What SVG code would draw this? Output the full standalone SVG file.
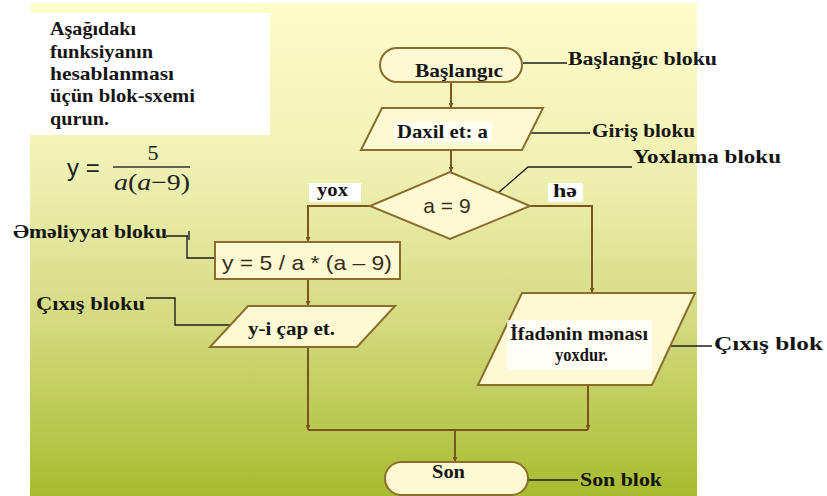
<svg xmlns="http://www.w3.org/2000/svg" width="827" height="496" viewBox="0 0 827 496">
  <defs>
    <linearGradient id="bg" x1="0" y1="0" x2="0" y2="1">
      <stop offset="0" stop-color="#fdfdcc"/>
      <stop offset="0.35" stop-color="#eef0b2"/>
      <stop offset="0.65" stop-color="#d3da80"/>
      <stop offset="1" stop-color="#a7bc2f"/>
    </linearGradient>
    <marker id="arr" viewBox="0 0 6 6" refX="6" refY="3" markerWidth="5" markerHeight="5" orient="auto" markerUnits="userSpaceOnUse">
      <path d="M0,0 L6,3 L0,6 z" fill="#7a5520"/>
    </marker>
    <style>
      .node { fill: #fdfad3; stroke: #8c6d2c; stroke-width: 2; }
      .flow { fill: none; stroke: #7a5520; stroke-width: 2; }
      .lead { fill: none; stroke: #1e1e1e; stroke-width: 1.4; }
      .lbl { font-weight: bold; font-size: 19px; fill: #151515; }
      .sans { font-family: 'Liberation Sans', Arial, sans-serif; font-size: 21px; fill: #3a2c1a; }
      .hl { fill: #ffffff; }
    </style>
  </defs>

  <!-- backdrop panel -->
  <rect x="0" y="0" width="827" height="496" fill="#ffffff"/>
  <rect x="30" y="3" width="667" height="493" fill="url(#bg)"/>

  <g font-family="Liberation Serif, serif">
  <!-- task statement -->
  <g id="task">
    <rect x="30" y="13" width="240" height="122" fill="#ffffff"/>
    <text class="lbl" x="50" y="35" textLength="86" lengthAdjust="spacingAndGlyphs">Aşağıdakı</text>
    <text class="lbl" x="50" y="58" textLength="103" lengthAdjust="spacingAndGlyphs">funksiyanın</text>
    <text class="lbl" x="50" y="80" textLength="124" lengthAdjust="spacingAndGlyphs">hesablanması</text>
    <text class="lbl" x="50" y="102" textLength="145" lengthAdjust="spacingAndGlyphs">üçün blok-sxemi</text>
    <text class="lbl" x="50" y="125" textLength="59" lengthAdjust="spacingAndGlyphs">qurun.</text>
  </g>

  <!-- formula y = 5 / (a(a-9)) -->
  <g id="formula">
    <text x="67" y="176" font-family="Liberation Sans, Arial, sans-serif" font-size="24" fill="#222">y =</text>
    <text x="153" y="160" text-anchor="middle" font-size="22" fill="#222">5</text>
    <line x1="113" y1="167" x2="190" y2="167" stroke="#333" stroke-width="1.3"/>
    <text x="114" y="190" font-size="23" fill="#222" textLength="76" lengthAdjust="spacingAndGlyphs"><tspan font-style="italic">a</tspan>(<tspan font-style="italic">a</tspan>−9)</text>
  </g>

  <!-- connectors -->
  <g id="connectors">
    <path class="flow" d="M451,82 V108" marker-end="url(#arr)"/>
    <path class="flow" d="M451,150 V172" marker-end="url(#arr)"/>
    <path class="flow" d="M370,206 H308 V242" marker-end="url(#arr)"/>
    <path class="flow" d="M530,206 H592 V293" marker-end="url(#arr)"/>
    <path class="flow" d="M308,279 V306" marker-end="url(#arr)"/>
    <path class="flow" d="M308,347 V430" marker-end="url(#arr)"/>
    <path class="flow" d="M588,385 V430" marker-end="url(#arr)"/>
    <path class="flow" d="M308,430 H588"/>
    <path class="flow" d="M455,430 V462" marker-end="url(#arr)"/>

    <!-- leader lines for the block names -->
    <path class="lead" d="M523,63 H567"/>
    <path class="lead" d="M531,133 H590"/>
    <path class="lead" d="M498,193 L528,167 H632"/>
    <path class="lead" d="M671,346 H712"/>
    <path class="lead" d="M528,480 H578"/>
    <path class="lead" d="M166,236 H188 M189,231 V240 M187,236 V258 H215"/>
    <path class="lead" d="M146,298 H175 V325 H230"/>
  </g>

  <!-- start terminal -->
  <g id="start">
    <rect class="node" x="380" y="48" width="142" height="34" rx="17"/>
    <text class="lbl" x="415" y="77" textLength="88" lengthAdjust="spacingAndGlyphs">Başlangıc</text>
  </g>

  <!-- input -->
  <g id="input">
    <polygon class="node" points="382,108 543,108 522,150 361,150"/>
    <rect class="hl" x="394" y="122" width="98" height="20" opacity="0.7"/>
    <text class="lbl" x="397" y="138" textLength="91" lengthAdjust="spacingAndGlyphs">Daxil et: a</text>
  </g>

  <!-- decision -->
  <g id="decision">
    <polygon class="node" points="450,172 530,206 450,239 370,206"/>
    <text class="sans" x="447" y="213" text-anchor="middle">a = 9</text>
  </g>

  <!-- branch labels -->
  <g id="branch-no">
    <rect class="hl" x="309" y="183" width="52" height="19"/>
    <text class="lbl" x="317" y="196" font-size="16" textLength="31" lengthAdjust="spacingAndGlyphs">yox</text>
  </g>
  <g id="branch-yes">
    <rect class="hl" x="548" y="183" width="35" height="19"/>
    <text class="lbl" x="553" y="197" font-size="16" textLength="24" lengthAdjust="spacingAndGlyphs">hə</text>
  </g>

  <!-- process -->
  <g id="process">
    <rect class="node" x="215" y="242" width="185" height="37"/>
    <text class="sans" x="222" y="270" font-size="22" textLength="170" lengthAdjust="spacingAndGlyphs">y = 5 / a * (a – 9)</text>
  </g>

  <!-- output of y -->
  <g id="output-y">
    <polygon class="node" points="248,306 395,306 357,347 210,347"/>
    <text class="lbl" x="248" y="335" textLength="87" lengthAdjust="spacingAndGlyphs">y-i çap et.</text>
  </g>

  <!-- output of message -->
  <g id="output-msg">
    <polygon class="node" points="522,293 695,293 652,385 478,385"/>
    <rect class="hl" x="507" y="320" width="145" height="50" opacity="0.75"/>
    <text class="lbl" x="510" y="340" textLength="138" lengthAdjust="spacingAndGlyphs">İfadənin mənası</text>
    <text class="lbl" x="555" y="361" textLength="53" lengthAdjust="spacingAndGlyphs">yoxdur.</text>
  </g>

  <!-- end terminal -->
  <g id="end">
    <rect class="node" x="385" y="462" width="143" height="33" rx="16.5"/>
    <text class="lbl" x="432" y="478" textLength="33" lengthAdjust="spacingAndGlyphs">Son</text>
  </g>

  <!-- block names -->
  <g id="name-start"><text class="lbl" x="568" y="65" textLength="149" lengthAdjust="spacingAndGlyphs">Başlanğıc bloku</text></g>
  <g id="name-input"><text class="lbl" x="592" y="137" textLength="103" lengthAdjust="spacingAndGlyphs">Giriş bloku</text></g>
  <g id="name-check"><text class="lbl" x="633" y="163" textLength="148" lengthAdjust="spacingAndGlyphs">Yoxlama bloku</text></g>
  <g id="name-process"><text class="lbl" x="13" y="238" textLength="154" lengthAdjust="spacingAndGlyphs">Əməliyyat bloku</text></g>
  <g id="name-output-left"><text class="lbl" x="36" y="310" textLength="109" lengthAdjust="spacingAndGlyphs">Çıxış bloku</text></g>
  <g id="name-output-right"><text class="lbl" x="714" y="350" textLength="109" lengthAdjust="spacingAndGlyphs">Çıxış blok</text></g>
  <g id="name-end"><text class="lbl" x="580" y="486" textLength="82" lengthAdjust="spacingAndGlyphs">Son blok</text></g>
  </g>
</svg>
